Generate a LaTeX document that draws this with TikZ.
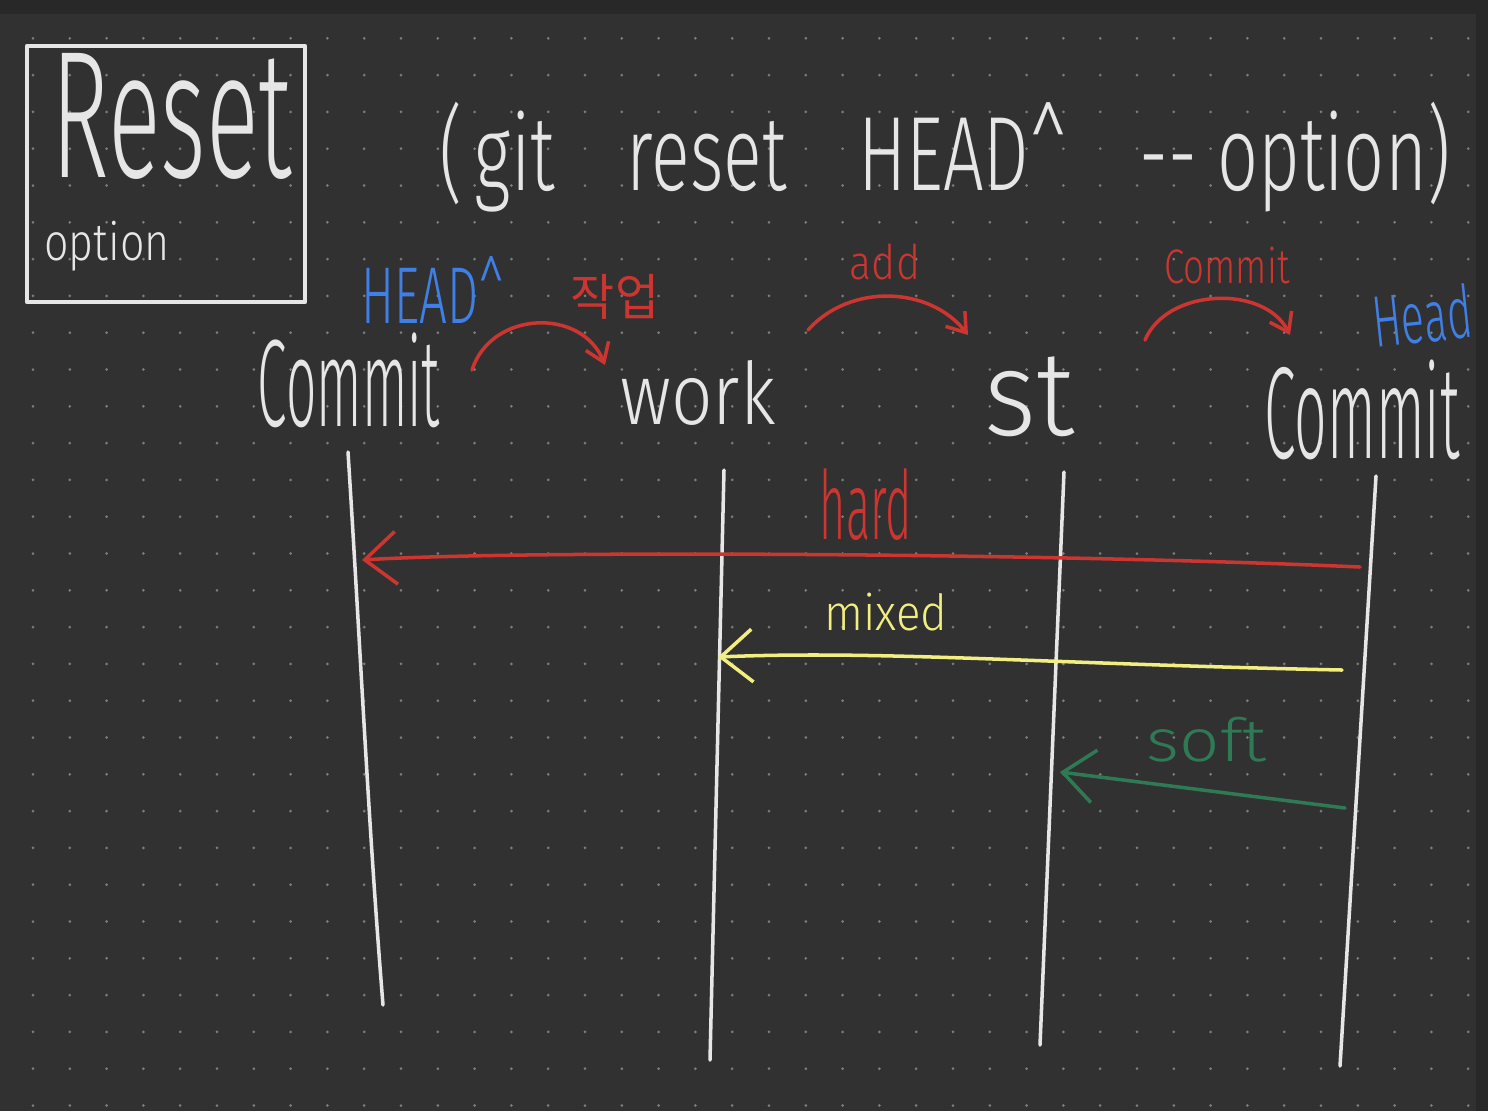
\documentclass[tikz,border=0pt]{standalone}
\usepackage{fontspec}
\setmainfont{Fira Sans Light}
\newfontfamily\kofont{Noto Sans CJK KR}
\usepackage{graphicx}
\usetikzlibrary{arrows.meta, positioning}

\definecolor{board}{HTML}{313131}
\definecolor{boardedge}{HTML}{282828}
\definecolor{griddot}{HTML}{7C7C7C}
\definecolor{chalk}{HTML}{E6E6E6}
\definecolor{redpen}{HTML}{CC3530}
\definecolor{bluepen}{HTML}{3F7FE6}
\definecolor{yellowpen}{HTML}{F2EF80}
\definecolor{greenpen}{HTML}{2F7A55}

% handwritten-ish word, stretched to the size it has on the board
\newcommand{\hw}[3]{\resizebox*{#1}{#2}{#3}}

\begin{document}
\begin{tikzpicture}[x=0.01cm, y=-0.01cm,
    word/.style={inner sep=0pt, text=#1},
    word/.default=chalk,
    pen/.style={line width=1pt, line cap=round, line join=round, draw=#1},
    pen/.default=chalk,
    reset/.style={pen=#1, -{Straight Barb[length=9pt, width=15pt, line width=1pt]}},
    hop/.style={pen=redpen, -{Straight Barb[length=5pt, width=7pt, line width=1pt]}}
]
    \useasboundingbox (0,0) rectangle (1488,1111);
    \fill[boardedge] (0,0) rectangle (1488,1111);
    \fill[board] (0,14) rectangle (1476,1111);
    \foreach \i in {0,...,39}
        \foreach \j in {0,...,29}
            \fill[griddot] (33+36.8*\i, 38.3+36.8*\j) circle (1.5);

    % title box
    \coordinate (boxnw) at (27,46);
    \coordinate (boxse) at (305,302);
    \draw[pen, line width=1.3pt] (boxnw) rectangle (boxse);
    \node[word] (title) at (172,116) {\hw{2.4cm}{1.26cm}{Reset}};
    \node[word] (opt) at (107,246) {\hw{1.25cm}{0.5cm}{option}};
    \node[word] (cmd) at (945,157) {\hw{10.1cm}{1.1cm}{(\,git\quad reset\quad HEAD\textasciicircum\quad -{}- option)}};

    % columns
    \node[word] (commitA) at (349,380) {\hw{1.82cm}{0.95cm}{Commit}};
    \node[word] (work) at (698,393) {\hw{1.55cm}{0.65cm}{work}};
    \node[word] (st) at (1030,397) {\hw{0.9cm}{0.8cm}{st}};
    \node[word] (commitB) at (1362,410) {\hw{1.95cm}{1.0cm}{Commit}};

    \node[word=bluepen] (headold) at (433,290) {\hw{1.43cm}{0.67cm}{HEAD\textasciicircum}};
    \node[word=bluepen, rotate=6] (headnew) at (1422,316) {\hw{1.0cm}{0.55cm}{Head}};

    \node[word=redpen] (worklbl) at (615,297) {\hw{0.88cm}{0.45cm}{\kofont 작업}};
    \node[word=redpen] (addlbl) at (885,262) {\hw{0.7cm}{0.36cm}{add}};
    \node[word=redpen] (commitlbl) at (1227,266) {\hw{1.25cm}{0.37cm}{Commit}};

    \coordinate (h1s) at (472,370);
    \coordinate (h1e) at (605,365);
    \coordinate (h2s) at (808,330);
    \coordinate (h2e) at (968,335);
    \coordinate (h3s) at (1145,340);
    \coordinate (h3e) at (1290,335);
    \draw[hop] (h1s) to[bend left=70, looseness=1.2] (h1e);
    \draw[hop] (h2s) to[bend left=50] (h2e);
    \draw[hop] (h3s) to[bend left=65] (h3e);

    % time lines
    \coordinate (t1) at (348,452);
    \coordinate (b1) at (383,1005);
    \coordinate (t2) at (724,470);
    \coordinate (b2) at (710,1060);
    \coordinate (t3) at (1064,472);
    \coordinate (b3) at (1040,1045);
    \coordinate (t4) at (1376,476);
    \coordinate (b4) at (1340,1066);
    \draw[pen] (t1) .. controls (360,640) and (368,820) .. (b1);
    \draw[pen] (t2) -- (b2);
    \draw[pen] (t3) -- (b3);
    \draw[pen] (t4) -- (b4);

    % reset options
    \node[word=redpen] (hard) at (866,505) {\hw{0.92cm}{0.72cm}{hard}};
    \node[word=yellowpen] (mixed) at (886,612) {\hw{1.23cm}{0.38cm}{mixed}};
    \node[word=greenpen] (soft) at (1207,740) {\hw{1.2cm}{0.45cm}{soft}};

    \coordinate (hardS) at (1360,567);
    \coordinate (hardE) at (362,560);
    \coordinate (mixS) at (1342,670);
    \coordinate (mixE) at (718,657);
    \coordinate (softS) at (1345,808);
    \coordinate (softE) at (1060,772);
    \draw[reset=redpen] (hardS) .. controls (1050,553) and (520,550) .. (hardE);
    \draw[reset=yellowpen] (mixS) .. controls (1050,664) and (880,650) .. (mixE);
    \draw[reset=greenpen] (softS) -- (softE);
\end{tikzpicture}
\end{document}
